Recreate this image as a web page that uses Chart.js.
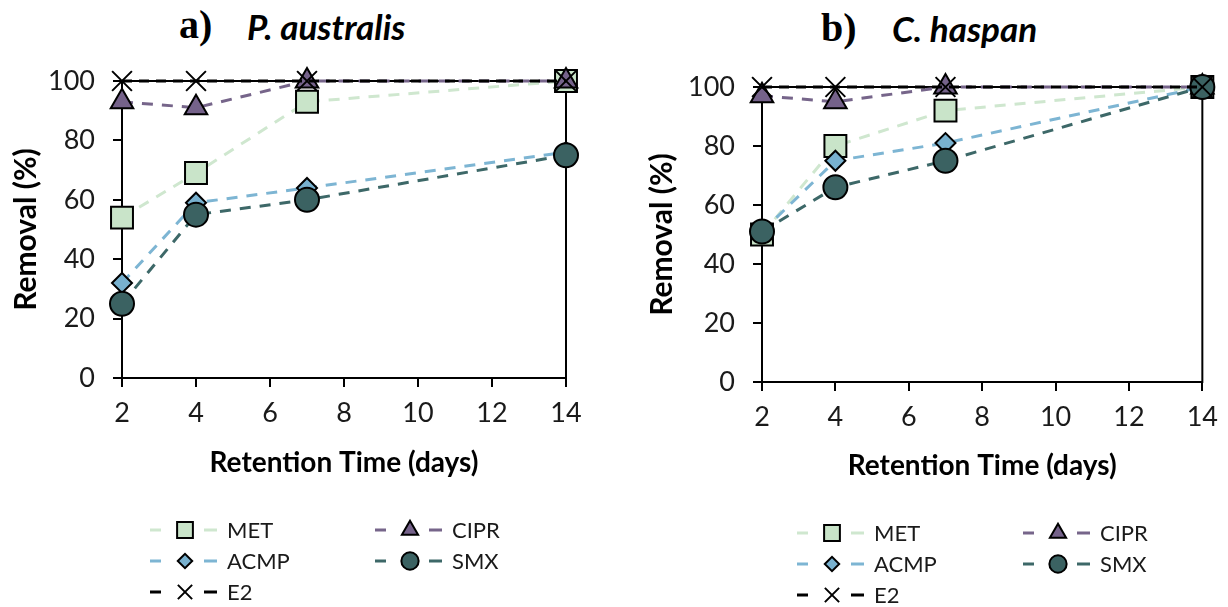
<!DOCTYPE html>
<html>
<head>
<meta charset="utf-8">
<script src="https://cdn.jsdelivr.net/npm/chart.js"></script>
<style>
  body { margin: 0; background: #fff; width: 1228px; height: 607px; overflow: hidden; position: relative; }
  .panel { position: absolute; top: 0; height: 607px; }
  .ttl { position: absolute; white-space: nowrap; line-height: 1; color: #000; }
  .lbl { font-family: "Liberation Serif", "Times New Roman", serif; font-weight: bold; font-size: 40px; }
  .sp { font-family: Lato, sans-serif; font-weight: bold; font-style: italic; font-size: 35px; }
</style>
</head>
<body>
<div class="ttl lbl" style="left:179px; top:5px;">a)</div>
<div class="ttl sp" style="left:247px; top:9px;">P. australis</div>
<div class="ttl lbl" style="left:821px; top:8px;">b)</div>
<div class="ttl sp" style="left:892px; top:11px;">C. haspan</div>

<div class="panel" style="left:0; width:600px;"><canvas id="chartA" width="600" height="607"></canvas></div>
<div class="panel" style="left:610px; width:618px;"><canvas id="chartB" width="618" height="607"></canvas></div>

<script>
// Retention time (days) and tick labels
const days = [2, 4, 7, 14];
const xTicks = [2, 4, 6, 8, 10, 12, 14];
const yTicks = [0, 20, 40, 60, 80, 100];
const compounds = ['MET', 'CIPR', 'ACMP', 'SMX', 'E2'];

// a) P. australis - removal (%)
const australisMET  = [54, 69, 93, 100];
const australisCIPR = [93, 91, 100, 100];
const australisACMP = [32, 59, 64, 76];
const australisSMX  = [25, 55, 60, 75];
const australisE2   = [100, 100, 100, 100];

// b) C. haspan - removal (%)
const haspanMET  = [50, 80, 92, 100];
const haspanCIPR = [97, 95, 100, 100];
const haspanACMP = [51, 75, 81, 100];
const haspanSMX  = [51, 66, 75, 100];
const haspanE2   = [100, 100, 100, 100];

const FONT = 'Lato, "Noto Sans", sans-serif';

// look of each compound
const styles = {
    MET:  { line: '#cfe7cf', fill: '#c9e4c9', point: 'rect',     radius: 15.5, dash: [11, 9], order: 5 },
    CIPR: { line: '#76658a', fill: '#75628a', point: 'triangle', radius: 13,   dash: [11, 9], order: 4 },
    ACMP: { line: '#7db5d3', fill: '#78b1cf', point: 'rectRot',  radius: 10,   dash: [11, 9], order: 3 },
    SMX:  { line: '#3d6868', fill: '#3b6262', point: 'circle',   radius: 12,   dash: [11, 9], order: 2 },
    E2:   { line: '#000000', fill: '#000000', point: 'crossRot', radius: 14,   dash: [10, 7], order: 1 }
};

function makeDatasets(values) {
    return compounds.map((name, i) => {
        const s = styles[name];
        return {
            label: name,
            data: days.map((d, j) => ({ x: d, y: values[i][j] })),
            borderColor: s.line,
            borderWidth: 3,
            borderDash: s.dash,
            pointStyle: s.point,
            pointRadius: s.radius,
            pointHoverRadius: s.radius,
            pointBackgroundColor: s.fill,
            pointBorderColor: '#000',
            pointBorderWidth: 2,
            fill: false,
            tension: 0,
            clip: false,
            order: s.order
        };
    });
}

// plot frame (top and right sides of the box)
const framePlugin = {
    id: 'frame',
    beforeDatasetsDraw(chart) {
        const a = chart.chartArea;
        const ctx = chart.ctx;
        ctx.save();
        ctx.strokeStyle = '#000';
        ctx.lineWidth = 2;
        ctx.strokeRect(a.left, a.top, a.right - a.left, a.bottom - a.top);
        ctx.restore();
    }
};

// legend: dash - marker - dash  label, two columns
const legendPlugin = {
    id: 'lineLegend',
    afterDraw(chart, args, opts) {
        const ctx = chart.ctx;
        ctx.save();
        chart.data.datasets.forEach((ds, i) => {
            const s = styles[ds.label];
            const x = opts.cols[i % 2];
            const y = opts.rows[Math.floor(i / 2)];
            ctx.setLineDash([]);
            ctx.strokeStyle = s.line;
            ctx.lineWidth = 3;
            ctx.beginPath();
            ctx.moveTo(x, y); ctx.lineTo(x + 11, y);
            ctx.moveTo(x + 54, y); ctx.lineTo(x + 67, y);
            ctx.stroke();
            ctx.fillStyle = s.fill;
            ctx.strokeStyle = '#000';
            ctx.lineWidth = 2;
            Chart.helpers.drawPoint(ctx, { pointStyle: s.point, radius: s.radius * 0.72, rotation: 0, borderWidth: 2 }, x + 35, y);
            ctx.fillStyle = '#1a1a1a';
            ctx.font = '22px ' + FONT;
            ctx.textBaseline = 'middle';
            ctx.textAlign = 'left';
            ctx.fillText(ds.label, x + 77, y + 1);
        });
        ctx.restore();
    }
};

function makeChart(id, values, lay) {
    new Chart(document.getElementById(id), {
        type: 'line',
        data: { datasets: makeDatasets(values) },
        plugins: [framePlugin, legendPlugin],
        options: {
            responsive: false,
            animation: false,
            events: [],
            layout: { padding: lay.padding },
            plugins: {
                legend: { display: false },
                tooltip: { enabled: false },
                lineLegend: { cols: lay.cols, rows: lay.rows }
            },
            scales: {
                x: {
                    type: 'linear',
                    min: 2,
                    max: 14,
                    afterFit: s => { s.height = lay.xHeight; },
                    afterBuildTicks: s => { s.ticks = xTicks.map(v => ({ value: v })); },
                    border: { color: '#000', width: 2 },
                    grid: { drawOnChartArea: false, drawTicks: true, tickLength: 9, color: '#000', lineWidth: 2 },
                    ticks: { color: '#1a1a1a', font: { family: FONT, size: 27 }, padding: 10, maxRotation: 0 },
                    title: { display: true, text: 'Retention Time (days)', color: '#000', font: { family: FONT, size: 28, weight: 'bold' }, padding: 0 }
                },
                y: {
                    min: 0,
                    max: 100,
                    afterFit: s => { s.width = lay.yWidth; },
                    afterBuildTicks: s => { s.ticks = yTicks.map(v => ({ value: v })); },
                    border: { color: '#000', width: 2 },
                    grid: { drawOnChartArea: false, drawTicks: true, tickLength: 9, color: '#000', lineWidth: 2 },
                    ticks: { color: '#1a1a1a', font: { family: FONT, size: 27 }, padding: 18 },
                    title: { display: true, text: 'Removal (%)', color: '#000', font: { family: FONT, size: 30, weight: 'bold' }, padding: 0 }
                }
            }
        }
    });
}

makeChart('chartA',
    [australisMET, australisCIPR, australisACMP, australisSMX, australisE2],
    { padding: { left: 8, top: 81, right: 34, bottom: 127 }, yWidth: 114, xHeight: 102,
      cols: [150, 375], rows: [530, 561, 592] });

makeChart('chartB',
    [haspanMET, haspanCIPR, haspanACMP, haspanSMX, haspanE2],
    { padding: { left: 34, top: 87, right: 21, bottom: 124 }, yWidth: 118, xHeight: 101,
      cols: [187, 413], rows: [533, 564, 595] });
</script>
</body>
</html>
